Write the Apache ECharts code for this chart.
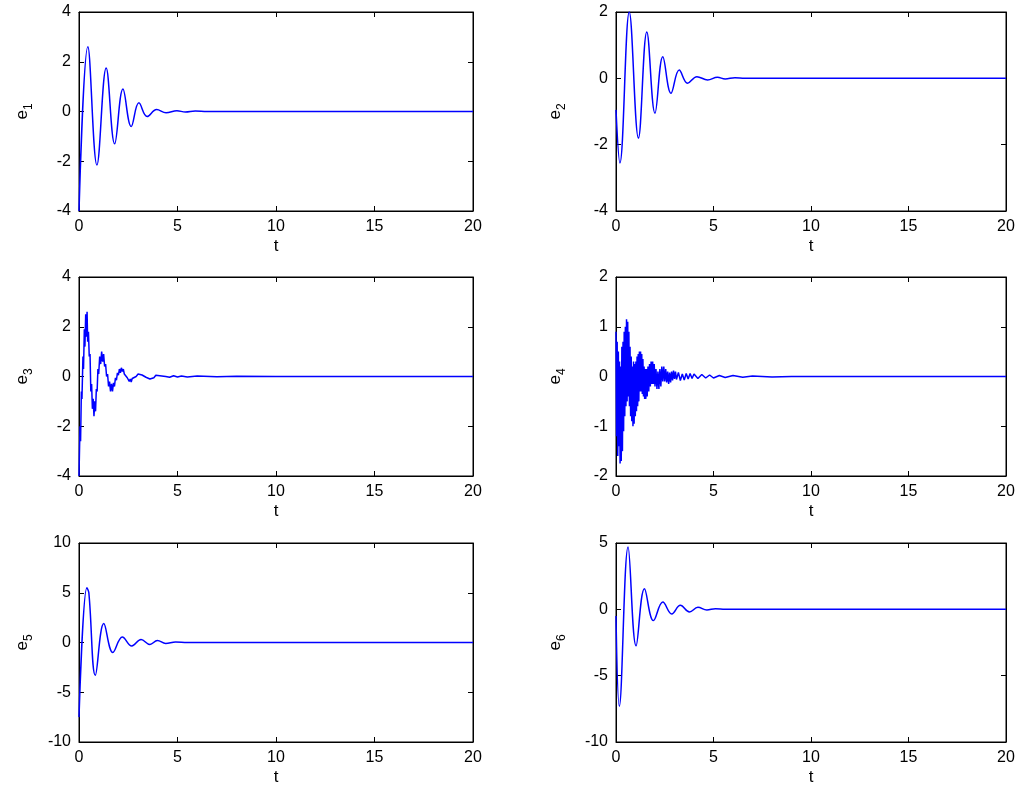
<!DOCTYPE html>
<html><head><meta charset="utf-8">
<script src="https://cdn.jsdelivr.net/npm/echarts@6/dist/echarts.min.js"></script>
<style>html,body{margin:0;padding:0;background:#fff}#c{width:1024px;height:796px}</style>
</head><body><div id="c"></div>
<script>
const e1 = [[0,-4],[0.45,2.6],[0.91,-2.15],[1.38,1.75],[1.81,-1.3],[2.23,0.9],[2.65,-0.6],[3.04,0.35],[3.46,-0.2],[3.94,0.08],[4.42,-0.05],[4.97,0.03],[5.4,-0.02],[5.9,0.02],[6.5,0],[20,0]];
const e2 = [[0,-0.95],[0.2,-2.55],[0.68,2.0],[1.15,-1.8],[1.58,1.4],[2.0,-1.05],[2.4,0.65],[2.82,-0.45],[3.24,0.25],[3.67,-0.15],[4.15,0.05],[4.7,-0.05],[5.2,0.03],[5.6,-0.02],[6.1,0.02],[6.6,0],[20,0]];
const e3 = [[0,-4],[0.05,-2.0],[0.08,-2.6],[0.12,-0.6],[0.15,-0.9],[0.2,0.8],[0.23,0.3],[0.27,1.9],[0.3,1.2],[0.34,2.5],[0.37,1.6],[0.41,2.6],[0.44,1.4],[0.48,1.8],[0.52,0.8],[0.56,0.9],[0.6,-0.6],[0.64,-0.3],[0.68,-1.3],[0.72,-0.9],[0.76,-1.6],[0.8,-1.0],[0.84,-1.4],[0.88,-0.5],[0.92,-0.6],[0.96,0.3],[1.0,0.1],[1.05,0.8],[1.1,0.5],[1.15,1.0],[1.2,0.6],[1.25,0.9],[1.3,0.4],[1.35,0.5],[1.4,0.0],[1.45,0.1],[1.5,-0.4],[1.55,-0.2],[1.6,-0.6],[1.65,-0.3],[1.7,-0.6],[1.75,-0.25],[1.8,-0.4],[1.85,-0.05],[1.9,-0.15],[1.95,0.15],[2.0,0.05],[2.05,0.3],[2.1,0.15],[2.15,0.35],[2.2,0.2],[2.25,0.3],[2.3,0.1],[2.4,0.15],[2.45,-0.05],[2.5,0.0],[2.55,-0.2],[2.6,-0.1],[2.65,-0.22],[2.7,-0.08],[2.8,-0.12],[2.9,0.0],[3.0,0.1],[3.05,0.05],[3.1,0.14],[3.2,0.06],[3.3,0.08],[3.4,-0.03],[3.5,-0.05],[3.6,-0.1],[3.7,-0.04],[3.8,-0.05],[3.9,0.05],[4.0,0.08],[4.1,0.03],[4.2,0.06],[4.4,0.0],[4.6,-0.03],[4.8,0.03],[5.0,-0.02],[5.2,0.02],[5.5,-0.02],[6,0.02],[7,-0.01],[8,0.01],[10,0],[20,0]];
const e4 = [[0,0.9],[0.03,-1.2],[0.06,0.7],[0.09,-1.6],[0.12,0.5],[0.15,-1.4],[0.18,0.3],[0.21,-1.75],[0.24,0.2],[0.27,-1.7],[0.30,0.6],[0.33,-1.5],[0.36,0.7],[0.39,-1.1],[0.42,0.9],[0.45,-0.8],[0.48,1.0],[0.51,-0.6],[0.54,1.15],[0.57,-0.5],[0.60,1.1],[0.63,-0.4],[0.66,0.9],[0.69,-0.6],[0.72,0.6],[0.75,-0.8],[0.78,0.4],[0.81,-0.9],[0.84,0.2],[0.87,-1.0],[0.90,0.3],[0.93,-0.95],[0.96,0.25],[0.99,-0.8],[1.02,0.3],[1.05,-0.7],[1.08,0.4],[1.11,-0.6],[1.14,0.45],[1.17,-0.5],[1.2,0.5],[1.23,-0.3],[1.26,0.5],[1.29,-0.3],[1.32,0.45],[1.35,-0.35],[1.38,0.35],[1.41,-0.4],[1.44,0.2],[1.47,-0.45],[1.5,0.15],[1.53,-0.45],[1.56,0.15],[1.6,-0.4],[1.64,0.2],[1.68,-0.3],[1.72,0.25],[1.76,-0.2],[1.8,0.3],[1.84,-0.15],[1.88,0.3],[1.92,-0.15],[1.96,0.25],[2.0,-0.2],[2.05,0.15],[2.1,-0.25],[2.15,0.1],[2.2,-0.25],[2.25,0.15],[2.3,-0.2],[2.35,0.2],[2.4,-0.1],[2.45,0.2],[2.5,-0.1],[2.55,0.15],[2.6,-0.12],[2.65,0.1],[2.7,-0.15],[2.75,0.08],[2.8,-0.12],[2.85,0.1],[2.9,-0.08],[2.95,0.12],[3.0,-0.05],[3.05,0.1],[3.1,-0.06],[3.2,0.08],[3.3,-0.08],[3.4,0.05],[3.5,-0.07],[3.6,0.06],[3.7,-0.05],[3.8,0.06],[3.9,-0.04],[4.0,0.05],[4.2,-0.04],[4.4,0.04],[4.6,-0.03],[4.8,0.03],[5.0,-0.03],[5.3,0.02],[5.6,-0.02],[6.0,0.02],[6.5,-0.015],[7,0.01],[8,-0.01],[9,0],[20,0]];
const e5 = [[0,-7.5],[0.4,5.5],[0.5,5.0],[0.83,-3.3],[1.26,1.9],[1.72,-1.0],[2.2,0.55],[2.68,-0.35],[3.15,0.3],[3.6,-0.2],[3.98,0.2],[4.4,-0.1],[4.9,0.05],[5.5,0],[20,0]];
const e6 = [[0,-0.5],[0.17,-7.3],[0.62,4.7],[1.03,-2.75],[1.46,1.55],[1.92,-0.85],[2.4,0.55],[2.86,-0.35],[3.3,0.3],[3.77,-0.2],[4.2,0.15],[4.66,-0.05],[5.1,0.05],[5.6,0],[20,0]];
const xTicks = {min:0,max:20,interval:5};
const panels = [
  {data:e1,sub:'1',min:-4,max:4,interval:2,smooth:0.4},
  {data:e2,sub:'2',min:-4,max:2,interval:2,smooth:0.4},
  {data:e3,sub:'3',min:-4,max:4,interval:2,smooth:false},
  {data:e4,sub:'4',min:-2,max:2,interval:1,smooth:false},
  {data:e5,sub:'5',min:-10,max:10,interval:5,smooth:0.4},
  {data:e6,sub:'6',min:-10,max:5,interval:5,smooth:0.4}
];
const tops=[12,277,543];
const grid=[],xAxis=[],yAxis=[],series=[];
const font="Liberation Sans, Arial, sans-serif";
panels.forEach((p,i)=>{
  const row=Math.floor(i/2),col=i%2;
  grid.push({left:col?616:79,width:col?390:394,top:tops[row],height:199,show:true,borderColor:'#000',borderWidth:1});
  const ax={type:'value',min:xTicks.min,max:xTicks.max,interval:xTicks.interval,gridIndex:i,splitLine:{show:false},
    axisLine:{show:true,onZero:false,lineStyle:{color:'#000'}},axisTick:{inside:true,length:5,lineStyle:{color:'#000'}}};
  xAxis.push(Object.assign({},ax,{position:'bottom',name:'t',nameLocation:'middle',nameGap:27,
    nameTextStyle:{fontFamily:font,fontSize:17,color:'#000'},axisLabel:{fontFamily:font,fontSize:16,color:'#000',margin:8}}));
  xAxis.push(Object.assign({},ax,{position:'top',axisLabel:{show:false}}));
  const ay={type:'value',min:p.min,max:p.max,interval:p.interval,gridIndex:i,splitLine:{show:false},
    axisLine:{show:true,onZero:false,lineStyle:{color:'#000'}},axisTick:{inside:true,length:5,lineStyle:{color:'#000'}}};
  yAxis.push(Object.assign({},ay,{position:'left',name:'{a|e}{b|'+p.sub+'}',nameLocation:'middle',nameRotate:90,nameGap:col?48:44,
    nameTextStyle:{rich:{a:{fontFamily:font,fontSize:17,color:'#000'},b:{fontFamily:font,fontSize:12,color:'#000',padding:[14,0,0,0]}}},
    axisLabel:{fontFamily:font,fontSize:16,color:'#000',margin:8}}));
  yAxis.push(Object.assign({},ay,{position:'right',axisLabel:{show:false}}));
  series.push({type:'line',xAxisIndex:2*i,yAxisIndex:2*i,data:p.data,smooth:p.smooth,showSymbol:false,
    lineStyle:{color:'#0000ff',width:1.5},animation:false,clip:true});
});
const chart=echarts.init(document.getElementById('c'));
chart.setOption({animation:false,grid,xAxis,yAxis,series});
</script></body></html>
